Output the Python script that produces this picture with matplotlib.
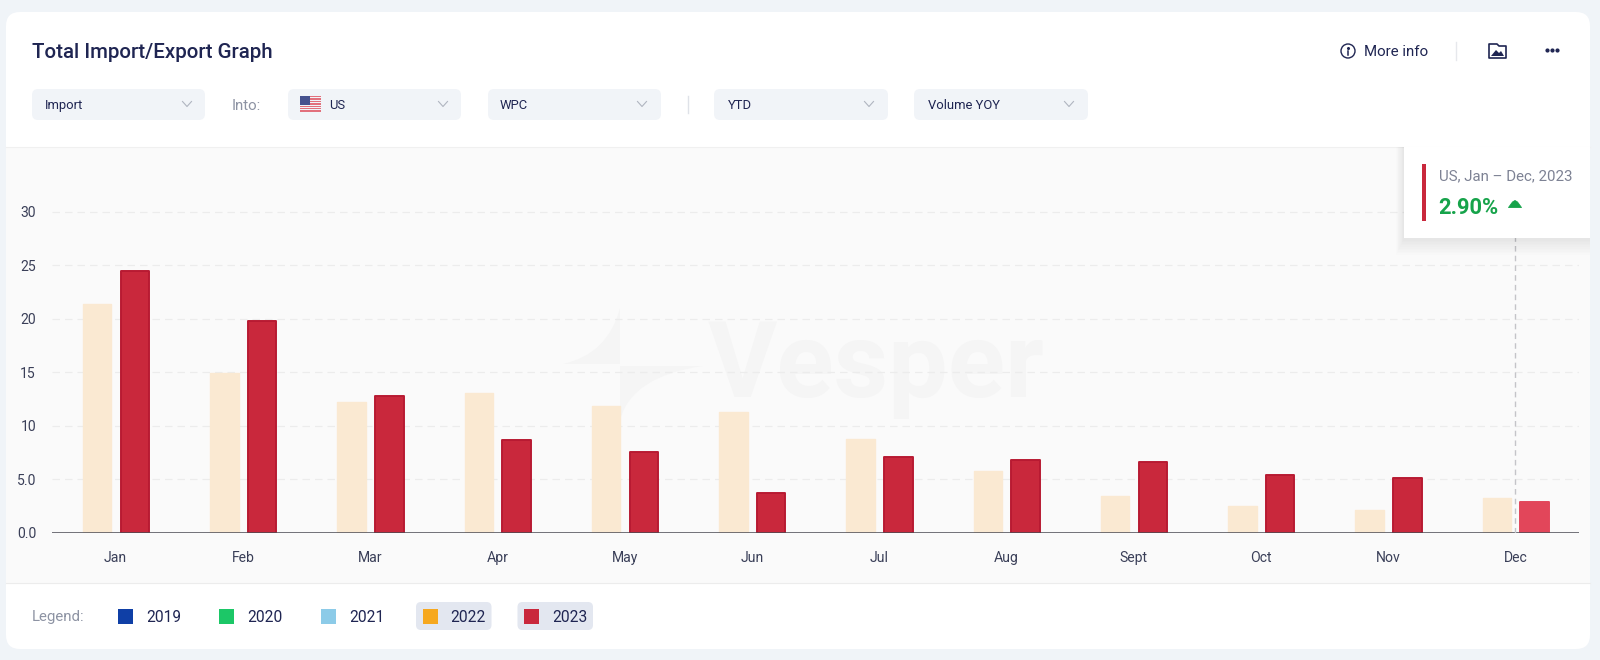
import matplotlib
matplotlib.use('Agg')
from matplotlib import pyplot as plt
from matplotlib.patches import FancyBboxPatch, Rectangle, Circle, PathPatch, Polygon
from matplotlib.path import Path

plt.rcParams['font.family'] = ['Roboto', 'DejaVu Sans']

months = ['Jan', 'Feb', 'Mar', 'Apr', 'May', 'Jun', 'Jul', 'Aug', 'Sept', 'Oct', 'Nov', 'Dec']
values_2022 = [21.4, 14.9, 12.2, 13.1, 11.8, 11.25, 8.8, 5.8, 3.4, 2.5, 2.1, 3.25]
values_2023 = [24.5, 19.8, 12.75, 8.7, 7.55, 3.75, 7.1, 6.75, 6.65, 5.4, 5.1, 2.85]
y_ticks = [0, 5, 10, 15, 20, 25, 30]
y_labels = ['0.0', '5.0', '10', '15', '20', '25', '30']
legend_years = ['2019', '2020', '2021', '2022', '2023']
legend_colors = ['#0f3fa6', '#1cc767', '#8ccbe8', '#f6a81f', '#c9283c']
legend_on = [False, False, False, True, True]

NAVY = '#1f2552'
GREY = '#8d93a3'
BOX = '#f1f4f8'


def px(size):
    # css pixels to points at dpi 100
    return size * 0.72


def rbox(ax, x0, y0, x1, y1, r, color, z=1):
    box = FancyBboxPatch((x0 + r, y0 + r), x1 - x0 - 2 * r, y1 - y0 - 2 * r,
                         boxstyle='round,pad=%f,rounding_size=%f' % (r, r),
                         fc=color, ec='none', zorder=z)
    ax.add_patch(box)


def label(ax, x, y, s, size, color=NAVY, ha='left', weight='normal', z=5, **kw):
    ax.text(x, y, s, fontsize=px(size), color=color, ha=ha, va='center_baseline',
            fontweight=weight, zorder=z, **kw)


def chevron(ax, x, y):
    ax.plot([x - 4.5, x, x + 4.5], [y - 2.5, y + 2.5, y - 2.5], color='#b0b5c0', lw=0.8, zorder=5)


def dropdown(ax, x0, x1, text, text_x, chev_x):
    rbox(ax, x0, 89, x1, 120, 6, BOX)
    label(ax, text_x, 104, text, 13)
    chevron(ax, chev_x, 104)


def draw_flag(ax):
    for i in range(7):
        ax.add_patch(Rectangle((300, 96 + i * 2.4), 21, 1.3, fc='#e2707c', ec='none', zorder=5))
    ax.add_patch(Rectangle((300, 96), 10, 8.5, fc='#46528e', ec='none', zorder=6))


def draw_star(ax):
    c = '#f5f5f5'
    blade1 = Path([(620, 308), (620, 364), (563, 364), (608, 354), (620, 308)],
                  [Path.MOVETO, Path.LINETO, Path.LINETO, Path.CURVE3, Path.CURVE3])
    blade2 = Path([(620, 366), (703, 366), (632, 376), (620, 420), (620, 366)],
                  [Path.MOVETO, Path.LINETO, Path.CURVE3, Path.CURVE3, Path.LINETO])
    ax.add_patch(PathPatch(blade1, fc=c, ec='none', zorder=2))
    ax.add_patch(PathPatch(blade2, fc=c, ec='none', zorder=2))


def draw_background(fig):
    ax = fig.add_axes([0, 0, 1, 1], zorder=0)
    ax.set_xlim(0, 1600)
    ax.set_ylim(660, 0)
    ax.axis('off')
    ax.add_patch(Rectangle((0, 0), 1600, 660, fc='#f0f4f8', ec='none', zorder=0))
    rbox(ax, 6, 12, 1590, 649, 14, 'white')
    ax.add_patch(Rectangle((6, 147), 1584, 436, fc='#fafafa', ec='none', zorder=1))
    ax.plot([6, 1590], [147, 147], color='#f0f0f0', lw=0.8, zorder=2)
    ax.plot([6, 1590], [583, 583], color='#ececec', lw=0.8, zorder=2)
    draw_star(ax)
    ax.text(708, 397, 'Vesper', fontsize=px(106), color='#f5f5f5',
            fontweight='bold', ha='left', va='baseline', zorder=2)

    label(ax, 32, 51, 'Total Import/Export Graph', 20.5, weight='medium')
    dropdown(ax, 32, 205, 'Import', 45, 187)
    label(ax, 232, 104, 'Into:', 15, color=GREY)
    dropdown(ax, 288, 461, 'US', 329, 443)
    draw_flag(ax)
    dropdown(ax, 488, 661, 'WPC', 500, 642)
    ax.plot([688, 688], [96, 113], color='#dfe2e8', lw=1, zorder=3)
    dropdown(ax, 714, 888, 'YTD', 727.5, 869)
    dropdown(ax, 914, 1088, 'Volume YOY', 927.5, 1069)

    # top right icons
    ax.add_patch(Circle((1348, 51), 7, fc='none', ec=NAVY, lw=1.0, zorder=5))
    ax.plot([1348, 1348], [50.5, 55], color=NAVY, lw=1.1, zorder=5)
    ax.plot([1348], [47.5], 'o', ms=1.2, color=NAVY, zorder=5)
    label(ax, 1364, 51, 'More info', 15)
    ax.plot([1456, 1456], [42, 60], color='#e6e8ec', lw=1, zorder=3)
    ax.add_patch(Polygon([(1489, 44), (1497, 44), (1499, 46), (1506, 46), (1506, 58), (1489, 58)],
                         fc='none', ec=NAVY, lw=1.2, joinstyle='round', zorder=5))
    ax.add_patch(Polygon([(1491, 56), (1496, 50), (1499, 53), (1501, 51), (1504, 56)],
                         fc=NAVY, ec='none', zorder=5))
    ax.plot([1547, 1552, 1557], [50, 50, 50], 'o', ms=2, color=NAVY, zorder=5)

    # legend
    label(ax, 32, 616, 'Legend:', 15, color=GREY)
    swatch_x = [118, 219, 321, 422.5, 524]
    for x, year, color, on in zip(swatch_x, legend_years, legend_colors, legend_on):
        if on:
            rbox(ax, x - 6.5, 602, x + 69, 630, 5, '#e3e7f0')
        ax.add_patch(Rectangle((x, 608.5), 15, 15, fc=color, ec='none', zorder=4))
        label(ax, x + 28, 616, year, 15.5)


def draw_chart(fig):
    left, right = 52, 1579
    bottom, per_unit = 532.7, 10.7
    top_val = 36
    ax = fig.add_axes([left / 1600, (660 - bottom) / 660, (right - left) / 1600,
                       top_val * per_unit / 660], zorder=1)
    ax.patch.set_alpha(0)
    xs = list(range(len(months)))
    width = 0.224
    ax.bar([x - 0.146 for x in xs], values_2022, width, color='#fae9d2', edgecolor='#fae9d2',
           linewidth=1, zorder=3, joinstyle='round')
    colors = ['#c9283c'] * 11 + ['#e2465a']
    edges = ['#b81a32'] * 11 + ['#e2465a']
    ax.bar([x + 0.152 for x in xs], values_2023, width, color=colors, edgecolor=edges,
           linewidth=1.4, zorder=3, joinstyle='round')
    ax.set_xlim(-0.5, 11.5)
    ax.set_ylim(0, top_val)
    ax.set_xticks(xs)
    ax.set_xticklabels(months)
    ax.set_yticks(y_ticks)
    ax.set_yticklabels(y_labels)
    ax.tick_params(axis='x', length=0, pad=13, labelsize=px(14), labelcolor='#3a3f58')
    ax.tick_params(axis='y', length=0, pad=11.5, labelsize=px(14), labelcolor='#3a3f58')
    ax.yaxis.grid(True, color='#ececec', lw=0.9, ls=(0, (6, 4)), zorder=1)
    ax.xaxis.grid(False)
    ax.axhline(0, color='#4d4d55', lw=1.1, zorder=4)
    ax.axvline(11, color='#c4c4c8', lw=1, ls=(0, (4, 3)), zorder=5)
    for side in ax.spines:
        ax.spines[side].set_visible(False)


def draw_tooltip(fig):
    ax = fig.add_axes([0, 0, 1, 1], zorder=2)
    ax.set_xlim(0, 1600)
    ax.set_ylim(660, 0)
    ax.axis('off')
    ax.patch.set_alpha(0)
    # soft shadow
    for i in range(10, 0, -1):
        ax.add_patch(Rectangle((1404 - i * 0.8, 147), 186 + i * 0.8, 91 + i * 1.6 + 1, fc='black',
                               ec='none', alpha=0.006, zorder=1))
    ax.add_patch(Rectangle((1404, 147), 186, 91, fc='white', ec='none', zorder=2))
    ax.add_patch(Rectangle((1422, 164), 3.7, 57, fc='#c9283c', ec='none', zorder=3))
    label(ax, 1439, 175, 'US, Jan \u2013 Dec, 2023', 15, color='#7d8294')
    label(ax, 1438.5, 206, '2.90%', 22, color='#16a34a', weight='bold')
    ax.add_patch(Polygon([(1508.5, 207.5), (1512.5, 202), (1515, 200.5), (1517.5, 202), (1521.5, 207.5)],
                         fc='#16a34a', ec='#16a34a', lw=0.6, joinstyle='round', zorder=3))


if __name__ == '__main__':
    fig = plt.figure(figsize=(16, 6.6), dpi=100)
    draw_background(fig)
    draw_chart(fig)
    draw_tooltip(fig)
    fig.savefig('out.png', dpi=100)
